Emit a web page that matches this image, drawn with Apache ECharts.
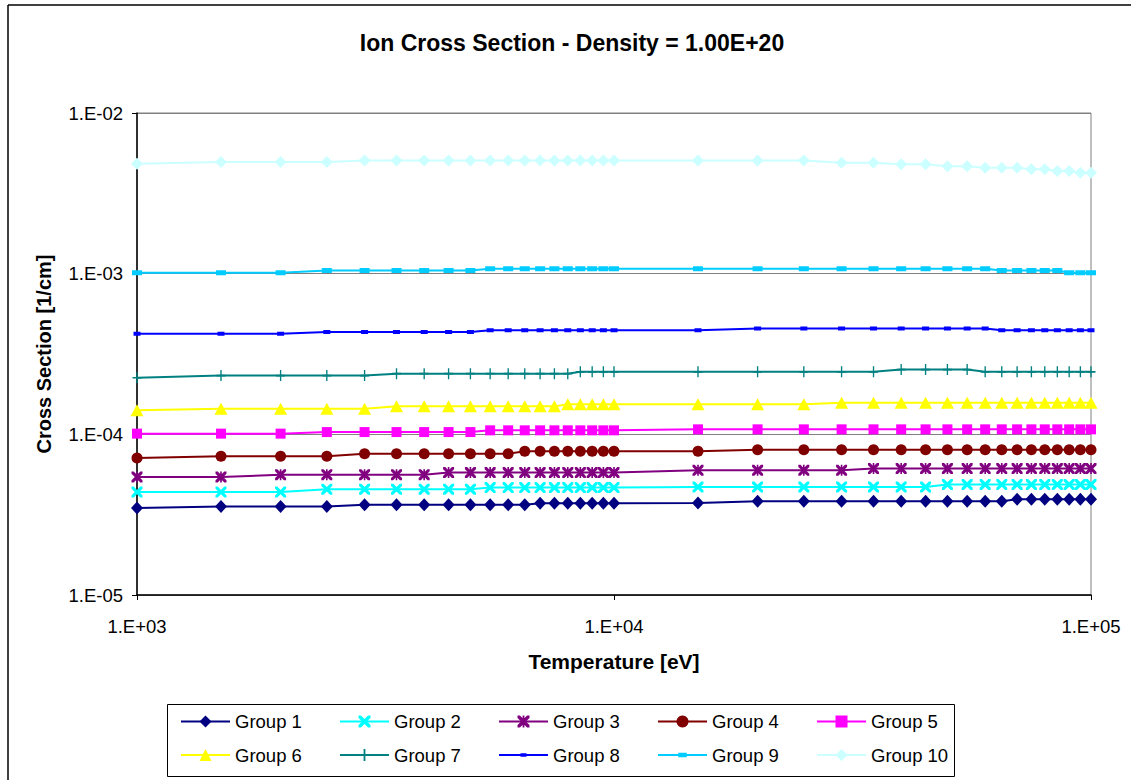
<!DOCTYPE html>
<html>
<head>
<meta charset="utf-8">
<script src="https://cdn.jsdelivr.net/npm/echarts@6/dist/echarts.min.js"></script>
<style>
html,body{margin:0;padding:0;background:#fff;}
#chart{width:1131px;height:780px;}
</style>
</head>
<body>
<div id="chart"></div>
<script>
// ---- data ----
const temperatures = [1000,1500,2000,2500,3000,3500,4000,4500,5000,5500,6000,6500,7000,7500,8000,8500,9000,9500,
  10000,15000,20000,25000,30000,35000,40000,45000,50000,55000,60000,65000,70000,75000,80000,85000,90000,95000,100000];
const seriesNames = ['Group 1','Group 2','Group 3','Group 4','Group 5','Group 6','Group 7','Group 8','Group 9','Group 10'];
const yTicks = ['1.E-05','1.E-04','1.E-03','1.E-02'];
const xTicks = ['1.E+03','1.E+04','1.E+05'];

const group1 = [3.48e-5,3.56e-5,3.56e-5,3.56e-5,3.64e-5,3.64e-5,3.64e-5,3.64e-5,3.64e-5,3.64e-5,3.64e-5,3.64e-5,3.72e-5,3.72e-5,3.72e-5,3.72e-5,3.72e-5,3.72e-5,
  3.72e-5,3.74e-5,3.83e-5,3.83e-5,3.83e-5,3.83e-5,3.83e-5,3.83e-5,3.83e-5,3.83e-5,3.83e-5,3.83e-5,3.95e-5,3.95e-5,3.95e-5,3.95e-5,3.95e-5,3.95e-5,3.95e-5];
const group2 = [4.37e-5,4.37e-5,4.37e-5,4.55e-5,4.55e-5,4.55e-5,4.55e-5,4.55e-5,4.55e-5,4.66e-5,4.66e-5,4.66e-5,4.66e-5,4.66e-5,4.66e-5,4.66e-5,4.66e-5,4.66e-5,
  4.66e-5,4.70e-5,4.70e-5,4.70e-5,4.70e-5,4.70e-5,4.70e-5,4.70e-5,4.87e-5,4.87e-5,4.87e-5,4.87e-5,4.87e-5,4.87e-5,4.87e-5,4.87e-5,4.87e-5,4.87e-5,4.87e-5];
const group3 = [5.42e-5,5.42e-5,5.61e-5,5.61e-5,5.61e-5,5.61e-5,5.61e-5,5.78e-5,5.78e-5,5.78e-5,5.78e-5,5.78e-5,5.78e-5,5.78e-5,5.78e-5,5.78e-5,5.78e-5,5.78e-5,
  5.78e-5,5.97e-5,5.97e-5,5.97e-5,5.97e-5,6.12e-5,6.12e-5,6.12e-5,6.12e-5,6.12e-5,6.12e-5,6.12e-5,6.12e-5,6.12e-5,6.12e-5,6.12e-5,6.12e-5,6.12e-5,6.12e-5];
const group4 = [7.12e-5,7.30e-5,7.30e-5,7.30e-5,7.58e-5,7.58e-5,7.58e-5,7.58e-5,7.58e-5,7.58e-5,7.58e-5,7.84e-5,7.84e-5,7.84e-5,7.84e-5,7.84e-5,7.84e-5,7.84e-5,
  7.84e-5,7.84e-5,8.03e-5,8.03e-5,8.03e-5,8.03e-5,8.03e-5,8.03e-5,8.03e-5,8.03e-5,8.03e-5,8.03e-5,8.03e-5,8.03e-5,8.03e-5,8.03e-5,8.03e-5,8.03e-5,8.03e-5];
const group5 = [1.010e-4,1.010e-4,1.010e-4,1.033e-4,1.033e-4,1.033e-4,1.033e-4,1.033e-4,1.033e-4,1.059e-4,1.059e-4,1.059e-4,1.059e-4,1.059e-4,1.059e-4,1.059e-4,1.059e-4,1.059e-4,
  1.059e-4,1.074e-4,1.074e-4,1.074e-4,1.074e-4,1.074e-4,1.074e-4,1.074e-4,1.074e-4,1.074e-4,1.074e-4,1.074e-4,1.074e-4,1.074e-4,1.074e-4,1.074e-4,1.074e-4,1.074e-4,1.074e-4];
const group6 = [1.410e-4,1.445e-4,1.445e-4,1.445e-4,1.445e-4,1.493e-4,1.493e-4,1.493e-4,1.493e-4,1.493e-4,1.493e-4,1.493e-4,1.493e-4,1.493e-4,1.537e-4,1.537e-4,1.537e-4,1.537e-4,
  1.537e-4,1.537e-4,1.537e-4,1.537e-4,1.575e-4,1.575e-4,1.575e-4,1.575e-4,1.575e-4,1.575e-4,1.575e-4,1.575e-4,1.575e-4,1.575e-4,1.575e-4,1.575e-4,1.575e-4,1.575e-4,1.575e-4];
const group7 = [2.25e-4,2.32e-4,2.32e-4,2.32e-4,2.32e-4,2.385e-4,2.385e-4,2.385e-4,2.385e-4,2.385e-4,2.385e-4,2.385e-4,2.385e-4,2.385e-4,2.385e-4,2.45e-4,2.45e-4,2.45e-4,
  2.45e-4,2.45e-4,2.45e-4,2.45e-4,2.45e-4,2.45e-4,2.53e-4,2.53e-4,2.53e-4,2.53e-4,2.45e-4,2.45e-4,2.45e-4,2.45e-4,2.45e-4,2.45e-4,2.45e-4,2.45e-4,2.45e-4];
const group8 = [4.23e-4,4.23e-4,4.23e-4,4.33e-4,4.33e-4,4.33e-4,4.33e-4,4.33e-4,4.33e-4,4.44e-4,4.44e-4,4.44e-4,4.44e-4,4.44e-4,4.44e-4,4.44e-4,4.44e-4,4.44e-4,
  4.44e-4,4.44e-4,4.55e-4,4.55e-4,4.55e-4,4.55e-4,4.55e-4,4.55e-4,4.55e-4,4.55e-4,4.55e-4,4.44e-4,4.44e-4,4.44e-4,4.44e-4,4.44e-4,4.44e-4,4.44e-4,4.44e-4];
const group9 = [1.014e-3,1.014e-3,1.014e-3,1.048e-3,1.048e-3,1.048e-3,1.048e-3,1.048e-3,1.048e-3,1.074e-3,1.074e-3,1.074e-3,1.074e-3,1.074e-3,1.074e-3,1.074e-3,1.074e-3,1.074e-3,
  1.074e-3,1.074e-3,1.074e-3,1.074e-3,1.074e-3,1.074e-3,1.074e-3,1.074e-3,1.074e-3,1.074e-3,1.074e-3,1.048e-3,1.048e-3,1.048e-3,1.048e-3,1.048e-3,1.014e-3,1.014e-3,1.014e-3];
const group10 = [4.84e-3,4.95e-3,4.95e-3,4.95e-3,5.07e-3,5.07e-3,5.07e-3,5.07e-3,5.07e-3,5.07e-3,5.07e-3,5.07e-3,5.07e-3,5.07e-3,5.07e-3,5.07e-3,5.07e-3,5.07e-3,
  5.07e-3,5.07e-3,5.07e-3,5.07e-3,4.91e-3,4.91e-3,4.79e-3,4.79e-3,4.67e-3,4.67e-3,4.57e-3,4.57e-3,4.57e-3,4.46e-3,4.46e-3,4.35e-3,4.35e-3,4.25e-3,4.25e-3];

const allGroups = [group1,group2,group3,group4,group5,group6,group7,group8,group9,group10];

// ---- styles ----
const FONT = 'Liberation Sans, Arial, sans-serif';
const X_PATH = 'path://M0,0 L4,0 L10,6 L16,0 L20,0 L20,4 L14,10 L20,16 L20,20 L16,20 L10,14 L4,20 L0,20 L0,16 L6,10 L0,4 Z';
const STAR_PATH = 'path://M0,0 L4,0 L10,6 L16,0 L20,0 L20,4 L14,10 L20,16 L20,20 L16,20 L10,14 L4,20 L0,20 L0,16 L6,10 L0,4 Z M8.5,0 L11.5,0 L11.5,20 L8.5,20 Z';
const PLUS_PATH = 'path://M8.5,0 L11.5,0 L11.5,8.5 L20,8.5 L20,11.5 L11.5,11.5 L11.5,20 L8.5,20 L8.5,11.5 L0,11.5 L0,8.5 L8.5,8.5 Z';
// flat bar markers inside a square box (tiny corner specks fix the box size)
const SMALL_BAR = 'path://M0,0 L0.01,0 L0,0.01 Z M14,14 L13.99,14 L14,13.99 Z M3.5,5 L10.5,5 L10.5,9 L3.5,9 Z';
const WIDE_BAR = 'path://M0,0 L0.01,0 L0,0.01 Z M14,14 L13.99,14 L14,13.99 Z M2,4.5 L12,4.5 L12,9.5 L2,9.5 Z';
const styles = [
  {color:'#000080', symbol:'diamond', size:[12,13]},
  {color:'#00FFFF', symbol:X_PATH, size:[11,11]},
  {color:'#800080', symbol:STAR_PATH, size:[11,11]},
  {color:'#800000', symbol:'circle', size:11},
  {color:'#FF00FF', symbol:'rect', size:[10,10]},
  {color:'#FFFF00', symbol:'triangle', size:[13,12]},
  {color:'#008080', symbol:PLUS_PATH, size:[9,11]},
  {color:'#0000FF', symbol:SMALL_BAR, size:[14,14]},
  {color:'#00CCFF', symbol:WIDE_BAR, size:[14,14]},
  {color:'#CCFFFF', symbol:'diamond', size:[12,12]}
];

function sciLabel(v){
  const e = Math.round(Math.log10(v));
  const a = Math.abs(e);
  return '1.E' + (e < 0 ? '-' : '+') + (a < 10 ? '0' + a : '' + a);
}

const series = seriesNames.map((name, i) => ({
  name: name,
  type: 'line',
  data: temperatures.map((t, j) => [t, allGroups[i][j]]),
  symbol: styles[i].symbol,
  symbolSize: styles[i].size,
  showSymbol: true,
  showAllSymbol: true,
  lineStyle: {color: styles[i].color, width: 2},
  itemStyle: {color: styles[i].color},
  emphasis: {disabled: true},
  z: 2 + i
}));

const legendCommon = {
  orient: 'horizontal',
  itemGap: 0,
  itemWidth: 49,
  itemHeight: 15,
  padding: 0,
  selectedMode: false,
  textStyle: {fontFamily: FONT, fontSize: 18.5, lineHeight: 20, color: '#000', width: 104, padding: [0,0,0,0]}
};

const chart = echarts.init(document.getElementById('chart'), null, {renderer: 'svg'});
chart.setOption({
  animation: false,
  backgroundColor: '#fff',
  title: {
    text: 'Ion Cross Section - Density = 1.00E+20',
    left: 567,
    top: 26,
    textAlign: 'center',
    textStyle: {fontFamily: FONT, fontSize: 23, fontWeight: 'bold', color: '#000'}
  },
  grid: {
    left: 137, right: 40, top: 113, bottom: 185,
    show: true, borderColor: '#808080', borderWidth: 1, backgroundColor: '#fff',
    containLabel: false
  },
  legend: [
    Object.assign({}, legendCommon, {left: 180, top: 711.5, data: seriesNames.slice(0,5)}),
    Object.assign({}, legendCommon, {left: 180, top: 745, data: seriesNames.slice(5)})
  ],
  xAxis: {
    type: 'log', logBase: 10, min: 1000, max: 100000,
    name: 'Temperature [eV]', nameLocation: 'middle', nameGap: 56,
    nameTextStyle: {fontFamily: FONT, fontSize: 21, fontWeight: 'bold', color: '#000'},
    axisLine: {show: true, lineStyle: {color: '#000', width: 1.5}},
    axisTick: {show: true, length: 5, inside: false, lineStyle: {color: '#000'}},
    minorTick: {show: false},
    splitLine: {show: false},
    axisLabel: {fontFamily: FONT, fontSize: 18.5, color: '#000', margin: 22,
      formatter: v => sciLabel(v)}
  },
  yAxis: {
    type: 'log', logBase: 10, min: 1e-5, max: 1e-2,
    name: 'Cross Section [1/cm]', nameLocation: 'middle', nameGap: 83, nameRotate: 90,
    nameTextStyle: {fontFamily: FONT, fontSize: 20, fontWeight: 'bold', color: '#000'},
    axisLine: {show: true, lineStyle: {color: '#000', width: 1.5}},
    axisTick: {show: true, length: 5, inside: false, lineStyle: {color: '#000'}},
    minorTick: {show: false},
    splitLine: {show: true, lineStyle: {color: '#808080', width: 1}},
    axisLabel: {fontFamily: FONT, fontSize: 18.5, color: '#000', margin: 14,
      formatter: v => sciLabel(v)}
  },
  graphic: [
    {type: 'line', shape: {x1: 8, y1: 5, x2: 1131, y2: 5}, style: {stroke: '#000', lineWidth: 1.5}, z: 0, silent: true},
    {type: 'line', shape: {x1: 8, y1: 5, x2: 8, y2: 780}, style: {stroke: '#000', lineWidth: 1.5}, z: 0, silent: true},
    {type: 'rect', shape: {x: 167.5, y: 704.5, width: 787, height: 72}, style: {fill: 'none', stroke: '#000', lineWidth: 1}, z: 0, silent: true}
  ],
  series: series
});
</script>
</body>
</html>
